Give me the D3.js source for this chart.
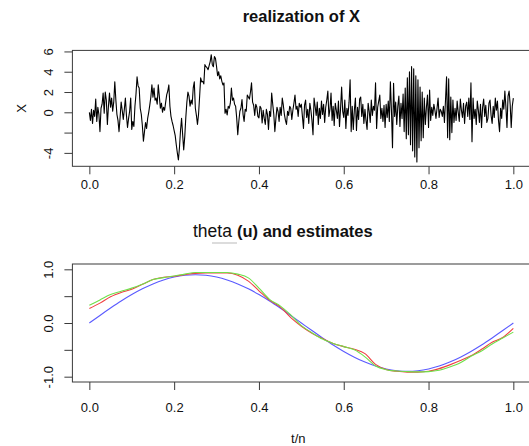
<!DOCTYPE html>
<html><head><meta charset="utf-8">
<script src="https://cdn.jsdelivr.net/npm/d3@7"></script>
<style>
html,body{margin:0;padding:0;background:#fff;}
svg{display:block;font-family:"Liberation Sans",Arial,Helvetica,sans-serif;}
</style></head><body>
<svg id="chart" width="529" height="446"></svg>
<script>
// realization of X (t = 0..n-1, plotted against t/n)
const xSeries = [
 0.0,-0.8,0.3,-1.1,0.2,-0.4,1.3,-0.9,0.5,-0.2,-1.9,0.4,0.8,1.9,-0.1,2.0,1.2,-1.2,0.6,1.9,
 0.5,1.4,0.1,1.0,3.0,1.2,-0.2,-0.8,-1.9,-0.5,1.0,0.2,-0.7,0.3,1.4,-0.3,-1.5,-0.6,0.1,1.4,
 -1.7,-0.9,-1.4,0.6,1.8,3.5,2.6,2.4,0.4,-0.2,-1.3,-2.85,-1.9,-1.0,-1.6,-0.6,0.0,0.7,1.5,2.7,
 1.5,2.4,1.2,1.4,0.8,2.7,1.6,0.4,0.9,0.0,0.5,0.2,1.0,1.75,2.1,2.7,0.6,-0.4,-0.9,-1.3,
 -1.8,-2.3,-3.2,-4.0,-4.7,-3.5,-1.8,-0.6,-2.2,-3.7,-2.4,-0.5,1.0,2.0,1.6,0.6,1.2,0.8,2.4,3.0,
 0.4,-0.3,-1.2,-0.2,1.5,3.4,3.0,3.05,2.8,4.7,4.5,4.4,4.2,4.6,5.0,5.68,4.7,4.5,5.5,5.3,
 4.5,3.6,4.0,3.3,3.6,3.05,2.7,2.9,-0.1,0.3,-0.25,0.6,0.4,0.9,2.4,1.2,1.4,0.8,0.6,-0.55,
 -2.2,-0.9,0.1,0.4,1.25,-0.2,-0.9,0.3,0.1,1.7,1.5,1.3,2.0,2.9,1.0,0.7,-0.3,0.8,0.5,-0.4,
 -0.55,0.6,0.4,-1.05,0.2,-0.6,-1.2,0.3,-0.2,-1.7,0.1,-0.4,1.9,0.8,-0.2,-1.9,-0.6,0.5,0.1,-0.9,
 0.5,-0.3,1.4,0.7,-0.2,-0.8,-1.2,0.1,-0.3,0.6,0.4,-0.7,0.2,0.9,1.7,0.3,0.6,-0.4,0.9,0.5,
 0.8,-0.4,-1.6,0.7,1.2,-0.5,0.3,-1.1,0.9,0.2,-0.8,-2.2,1.4,0.6,-0.3,1.0,-1.2,0.4,-0.6,1.1,
 -0.2,0.8,-1.0,0.5,1.2,2.1,-0.4,0.3,1.9,-0.8,0.6,-1.3,0.9,0.2,-0.6,1.1,-1.4,0.4,2.5,0.1,
 -0.5,1.2,-1.6,0.4,-0.3,1.0,3.2,-1.9,0.6,-1.7,0.2,1.4,-1.8,0.5,-0.7,1.3,1.5,-0.4,0.8,-1.1,
 0.3,-0.8,-1.7,0.9,0.1,-1.0,1.2,-0.3,0.6,0.2,2.9,-1.6,0.5,1.1,1.7,-0.6,0.4,-0.9,0.7,-1.5,
 0.8,-0.5,1.1,-0.9,3.0,0.2,-3.5,2.86,-0.4,1.0,-1.2,0.6,1.6,-1.4,0.9,-0.6,1.8,-1.9,2.4,-2.6,
 3.4,-2.2,4.0,-3.2,4.5,-3.8,4.3,-4.4,3.6,-4.9,3.2,-3.5,2.5,-2.8,2.0,-2.5,1.4,-1.2,0.5,1.7,
 -1.5,2.2,-0.8,0.5,-0.3,0.8,0.2,-0.6,0.4,1.4,-0.5,0.3,0.1,-0.4,0.6,-1.0,1.2,3.5,-2.5,3.3,
 -2.7,1.5,-2.0,1.2,-1.0,0.4,-0.8,1.1,0.0,-0.9,1.3,0.2,-0.5,0.9,-1.1,0.6,1.0,-0.4,1.4,-0.7,
 2.9,-2.9,1.4,-0.6,0.3,-1.2,1.1,0.2,-1.0,0.8,-1.5,0.5,1.3,-0.4,0.7,-1.0,-0.6,0.9,1.2,-0.3,
 -1.1,0.6,-0.5,1.4,0.2,1.1,-0.8,-1.9,0.4,-0.6,1.2,0.3,2.1,0.5,-1.5,1.6,2.1,0.8,-1.5,0.6,
 1.4
];

// theta(u) and its two estimates, on the grid u = 0, 0.025, ..., 1
const uGrid = [0,0.025,0.05,0.075,0.1,0.125,0.15,0.175,0.2,0.225,0.25,0.275,0.3,0.325,0.35,0.375,0.4,0.425,0.45,0.475,
 0.5,0.525,0.55,0.575,0.6,0.625,0.65,0.675,0.7,0.725,0.75,0.775,0.8,0.825,0.85,0.875,0.9,0.925,0.95,0.975,1];
const thetaTrue = [0,0.141,0.278,0.409,0.529,0.636,0.728,0.802,0.856,0.889,0.9,0.889,0.856,0.802,0.728,0.636,0.529,0.409,0.278,0.141,
 0,-0.141,-0.278,-0.409,-0.529,-0.636,-0.728,-0.802,-0.856,-0.889,-0.9,-0.889,-0.856,-0.802,-0.728,-0.636,-0.529,-0.409,-0.278,-0.141,0];
const thetaEstRed = [0.27,0.37,0.49,0.57,0.63,0.72,0.81,0.85,0.87,0.90,0.925,0.93,0.93,0.93,0.89,0.78,0.6,0.425,0.30,0.10,
 -0.06,-0.19,-0.29,-0.38,-0.44,-0.49,-0.57,-0.77,-0.865,-0.9,-0.915,-0.915,-0.9,-0.85,-0.78,-0.70,-0.61,-0.49,-0.36,-0.27,-0.10];
const thetaEstGreen = [0.33,0.43,0.53,0.59,0.65,0.72,0.81,0.845,0.875,0.91,0.94,0.94,0.94,0.94,0.91,0.84,0.65,0.44,0.32,0.15,
 -0.05,-0.18,-0.30,-0.38,-0.44,-0.5,-0.63,-0.8,-0.87,-0.895,-0.905,-0.91,-0.905,-0.88,-0.82,-0.74,-0.62,-0.52,-0.39,-0.28,-0.17];

const xTicks = [0,0.2,0.4,0.6,0.8,1.0];
const xTickLabels = ["0.0","0.2","0.4","0.6","0.8","1.0"];
const topYTicks = [-4,-2,0,2,4,6];
const topYLabels = ["-4","","0","2","4","6"];
const botYTicks = [-1,-0.5,0,0.5,1];
const botYLabels = ["-1.0","","0.0","","1.0"];

const svg = d3.select("#chart");
const axisColor = "#3a3a3a";
const x = d3.scaleLinear().domain([-0.04,1.04]).range([72.4,530.3]);
const tx = d3.scaleLinear().domain([0, xSeries.length-1]).range([0,1]);

const ext = d3.extent(xSeries), pad = (ext[1]-ext[0])*0.04;
const yTop = d3.scaleLinear().domain([ext[0]-pad, ext[1]+pad]).range([166.3,50.4]);
const yBot = d3.scaleLinear().domain([-1.099,1.099]).range([382,264]);

function panel(yScale, yTicks, yLabels, xLabelOffset){
  const [yb, yt] = yScale.range();
  const [xl, xr] = x.range();
  svg.append("rect").attr("x",xl).attr("y",yt).attr("width",xr-xl).attr("height",yb-yt)
    .attr("fill","none").attr("stroke",axisColor).attr("stroke-width",1);
  const ax = svg.append("g").attr("transform",`translate(0,${yb})`)
    .call(d3.axisBottom(x).tickValues(xTicks).tickFormat((d,i)=>xTickLabels[i]).tickSize(8));
  ax.select(".domain").remove();
  ax.selectAll("line").attr("stroke",axisColor);
  ax.selectAll("text").attr("y",xLabelOffset).attr("dy",0).attr("fill","#111")
    .style("font-size","13px").style("font-family","Liberation Sans, Arial, sans-serif");
  const ay = svg.append("g").attr("transform",`translate(${xl},0)`)
    .call(d3.axisLeft(yScale).tickValues(yTicks).tickFormat((d,i)=>yLabels[i]).tickSize(8));
  ay.select(".domain").remove();
  ay.selectAll("line").attr("stroke",axisColor);
  ay.selectAll("text").attr("x",0).attr("dy",0).attr("text-anchor","middle")
    .attr("transform",`translate(${53-xl},0) rotate(-90)`).attr("fill","#111")
    .style("font-size","13px").style("font-family","Liberation Sans, Arial, sans-serif");
}

panel(yTop, topYTicks, topYLabels, 23);
panel(yBot, botYTicks, botYLabels, 30.3);

const lineTop = d3.line().x((d,i)=>x(tx(i))).y(d=>yTop(d));
svg.append("path").datum(xSeries).attr("d",lineTop)
  .attr("fill","none").attr("stroke","#000").attr("stroke-width",1.1).attr("stroke-linejoin","round");

const lineBot = d3.line().x((d,i)=>x(uGrid[i])).y(d=>yBot(d)).curve(d3.curveMonotoneX);
[[thetaTrue,"#5a5aff"],[thetaEstRed,"#f04040"],[thetaEstGreen,"#6fe04a"]].forEach(([s,c])=>{
  svg.append("path").datum(s).attr("d",lineBot)
    .attr("fill","none").attr("stroke",c).attr("stroke-width",1.1);
});

svg.append("text").attr("x",(x.range()[0]+x.range()[1])/2).attr("y",21.7).attr("text-anchor","middle")
  .style("font-weight","bold").style("font-size","16.5px").attr("fill","#111").text("realization of X");
svg.append("text").attr("x",193).attr("y",237).style("font-size","17.5px").attr("fill","#111").text("theta");
svg.append("line").attr("x1",212).attr("x2",237).attr("y1",243).attr("y2",243)
  .attr("stroke","#d0d0d0").attr("stroke-width",1.5);
svg.append("text").attr("x",237).attr("y",237).style("font-weight","bold").style("font-size","16.5px")
  .attr("fill","#111").text("(u) and estimates");
svg.append("text").attr("x",(x.range()[0]+x.range()[1])/2 - 3).attr("y",442.5).attr("text-anchor","middle")
  .style("font-size","13px").attr("fill","#111").text("t/n");
svg.append("text").attr("transform",`translate(26,${(yTop.range()[0]+yTop.range()[1])/2}) rotate(-90)`)
  .attr("text-anchor","middle").style("font-size","13px").attr("fill","#111").text("X");
</script>
</body></html>
